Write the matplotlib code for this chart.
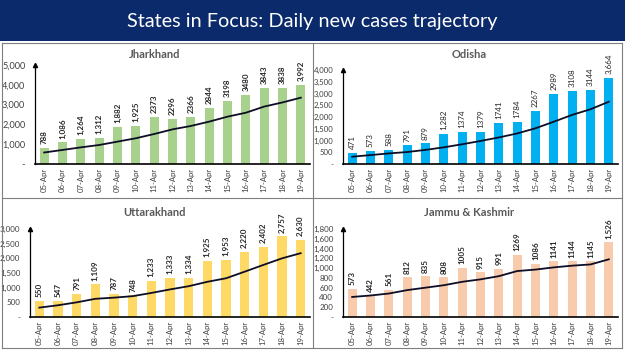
import numpy as np
import matplotlib
matplotlib.use("Agg")
import matplotlib.pyplot as plt
from matplotlib.lines import Line2D

plt.rcParams["font.family"] = ["Lato", "DejaVu Sans"]

# -----------------------------------------------------------
# Data
# -----------------------------------------------------------

dates = ["05-Apr", "06-Apr", "07-Apr", "08-Apr", "09-Apr", "10-Apr", "11-Apr",
         "12-Apr", "13-Apr", "14-Apr", "15-Apr", "16-Apr", "17-Apr", "18-Apr", "19-Apr"]

jh_cases = [788, 1086, 1264, 1312, 1882, 1925, 2373, 2296, 2366, 2844, 3198, 3480, 3843, 3838, 3992]
jh_labels = ["788", "1,086", "1,264", "1,312", "1,882", "1,925", "2373", "2296", "2366",
             "2844", "3198", "3480", "3843", "3838", "3,992"]
jh_trend = [580, 710, 840, 960, 1130, 1300, 1515, 1750, 1920, 2140, 2390, 2590, 2900, 3110, 3350]

od_cases = [471, 573, 588, 791, 879, 1282, 1374, 1379, 1741, 1784, 2267, 2989, 3108, 3144, 3664]
od_labels = ["471", "573", "588", "791", "879", "1,282", "1374", "1379", "1741",
             "1784", "2267", "2989", "3108", "3144", "3,664"]
od_trend = [310, 380, 450, 510, 600, 710, 840, 980, 1130, 1300, 1520, 1800, 2090, 2330, 2650]

uk_cases = [550, 547, 791, 1109, 787, 748, 1233, 1333, 1334, 1925, 1953, 2220, 2402, 2757, 2630]
uk_labels = ["550", "547", "791", "1,109", "787", "748", "1,233", "1,333", "1,334",
             "1,925", "1,953", "2,220", "2,402", "2,757", "2,630"]
uk_trend = [320, 400, 500, 620, 660, 710, 820, 940, 1050, 1200, 1320, 1545, 1775, 2000, 2175]

jk_cases = [573, 442, 561, 812, 835, 808, 1005, 915, 991, 1269, 1086, 1141, 1144, 1145, 1526]
jk_labels = ["573", "442", "561", "812", "835", "808", "1005", "915", "991",
             "1269", "1086", "1141", "1144", "1145", "1,526"]
jk_trend = [410, 440, 480, 550, 600, 650, 720, 770, 835, 940, 970, 1015, 1050, 1075, 1180]

# -----------------------------------------------------------
# Figure
# -----------------------------------------------------------

W, H = 625, 351
fig = plt.figure(figsize=(W / 100, H / 100), dpi=100)
fig.patch.set_facecolor("white")


def px_rect(x0, y0, x1, y1):
    # pixel box (top-left origin) -> figure fraction [l, b, w, h]
    return [x0 / W, 1 - y1 / H, (x1 - x0) / W, (y1 - y0) / H]


# header band
hdr = fig.add_axes(px_rect(0, 0, W, 41))
hdr.set_facecolor("#0B2A6B")
hdr.set_xticks([])
hdr.set_yticks([])
for s in hdr.spines.values():
    s.set_visible(False)
hdr.text(0.5, 0.48, "States in Focus: Daily new cases trajectory", color="white",
         fontsize=14.3, ha="center", va="center", transform=hdr.transAxes)

# panel frames
frame_col = "#7F7F7F"
for xs, ys in [([2, 622], [43, 43]), ([2, 622], [198, 198]), ([2, 622], [348, 348]),
               ([2, 2], [43, 348]), ([313, 313], [43, 348]), ([622, 622], [43, 348])]:
    fig.add_artist(Line2D([x / W for x in xs], [1 - y / H for y in ys],
                          color=frame_col, lw=0.8))

# name, values, labels, trend, colour, pixel box, ymax, step, bold labels, title centre, ytick size
panels = [
    ("Jharkhand", jh_cases, jh_labels, jh_trend, "#A9D18E", (35, 65, 310, 164), 5000, 1000, True, (155, 55), 6.6),
    ("Odisha", od_cases, od_labels, od_trend, "#00B0F0", (343, 70, 618, 164), 4000, 500, False, (469, 55), 5.6),
    ("Uttarakhand", uk_cases, uk_labels, uk_trend, "#FFD966", (30, 229, 310, 317), 3000, 500, True, (155, 212), 5.8),
    ("Jammu & Kashmir", jk_cases, jk_labels, jk_trend, "#F8CBAD", (343, 229, 618, 317), 1800, 200, True, (469, 212), 5.8),
]

x = np.arange(len(dates))

for name, cases, labels, trend, color, box, ymax, step, bold, tpos, ysz in panels:
    ax = fig.add_axes(px_rect(*box))
    ax.bar(x, cases, width=0.5, color=color, zorder=2)
    ax.plot(x, trend, color="#0D0D26", lw=1.3, zorder=3)

    ax.set_xlim(-0.5, len(dates) - 0.5)
    ax.set_ylim(0, ymax)
    yt = np.arange(0, ymax + 1, step)
    ax.set_yticks(yt)
    ax.set_yticklabels(["-"] + [f"{v:,}" for v in yt[1:]])
    ax.set_xticks(x)
    ax.set_xticklabels(dates, rotation=90)
    ax.tick_params(axis="y", length=0, pad=7, labelsize=ysz, labelcolor="#404040")
    ax.tick_params(axis="x", length=0, pad=3, labelsize=5.6, labelcolor="#404040")

    for s in ["top", "right"]:
        ax.spines[s].set_visible(False)
    ax.spines["left"].set_color("black")
    ax.spines["bottom"].set_color("black")
    ax.spines["left"].set_linewidth(0.9)
    ax.spines["bottom"].set_linewidth(1.2)
    ax.plot(0, 1.0, marker="^", color="black", markersize=3,
            transform=ax.transAxes, clip_on=False)

    for i, (v, lab) in enumerate(zip(cases, labels)):
        ax.text(i, v + ymax * 0.04, lab, rotation=90, ha="center", va="bottom",
                fontsize=5.8, fontweight="bold" if bold else "normal",
                color="#262626", clip_on=False)

    fig.text(tpos[0] / W, 1 - tpos[1] / H, name, ha="center", va="center",
             fontsize=8, fontweight="bold", color="#595959")

fig.savefig("out.png", dpi=100)
